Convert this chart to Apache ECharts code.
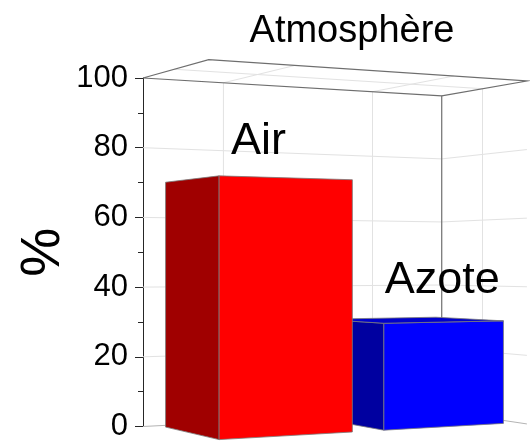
<!DOCTYPE html>
<html>
<head>
<meta charset="utf-8">
<script src="https://cdn.jsdelivr.net/npm/echarts@6/dist/echarts.min.js"></script>
<style>
  html, body { margin: 0; padding: 0; background: #fff; }
  #chart { width: 530px; height: 442px; }
</style>
</head>
<body>
<div id="chart"></div>
<script>
// ---- data ----
const categories = ['Air', 'Azote'];
const values = [70, 30];
const zTicks = [0, 20, 40, 60, 80, 100];
const rowTicks = [1];
const chartTitle = 'Atmosphère';
const axisName = '%';

// ---- styling / camera (not data) ----
const FONT = '"Liberation Sans", Arial, Helvetica, sans-serif';
const frontColors = ['#ff0000', '#0000ff'];
const sideColors = ['#a00000', '#0000a0'];
const topColors = ['#d80000', '#0000cc'];
const labelDx = [1, 31];
const labelDy = -39;
const H0 = 46.3; // eye height in value units
const CAM = { c1: 0.0151, c2: 0.0256, c3: 0.2408, a1: 49.5, a2: -13.5, a3: 36.505 };
const BOX = { x0: 0.5, x1: 2.5, y0: 0.5, y1: 1.5 };
const HALF = 0.4;

function makeProj(api) {
  const W = (X, Y) => CAM.c1 * X + CAM.c2 * Y + CAM.c3;
  const U = (X, Y) => CAM.a1 * X + CAM.a2 * Y + CAM.a3;
  const WB = W(BOX.x0, BOX.y1);
  const uB = U(BOX.x0, BOX.y1) / WB;
  const cy = api.coord([BOX.x0, H0])[1];
  return function (X, Y, Z) {
    const ref = api.coord([BOX.x0, Z]);
    const w = W(X, Y);
    return [ref[0] + U(X, Y) / w - uB, cy + (ref[1] - cy) * WB / w];
  };
}

function line(pts, color, width, z2) {
  return { type: 'polyline', shape: { points: pts }, style: { stroke: color, lineWidth: width, fill: null }, z2: z2 || 0, silent: true };
}

function renderFrame(params, api) {
  const P = makeProj(api);
  const zMin = zTicks[0], zMax = zTicks[zTicks.length - 1];
  const kids = [];
  const light = '#e2e2e2';
  // horizontal gridlines on back walls
  zTicks.slice(1, -1).forEach(z => {
    kids.push(line([P(BOX.x0, BOX.y1, z), P(BOX.x1, BOX.y1, z), P(BOX.x1, BOX.y0, z)], light, 1));
  });
  // category gridlines: back wall vertical + across top plane
  categories.forEach((c, i) => {
    const X = i + 1;
    kids.push(line([P(X, BOX.y1, zMin), P(X, BOX.y1, zMax), P(X, BOX.y0, zMax)], light, 1));
  });
  // row gridlines: right wall vertical + across top plane
  rowTicks.forEach(Y => {
    kids.push(line([P(BOX.x1, Y, zMin), P(BOX.x1, Y, zMax), P(BOX.x0, Y, zMax)], light, 1));
  });
  // floor back edges
  kids.push(line([P(BOX.x0, BOX.y1, zMin), P(BOX.x1, BOX.y1, zMin), P(BOX.x1, BOX.y0, zMin)], '#b4b4b4', 1, 1));
  // top box edges
  kids.push(line([P(BOX.x0, BOX.y1, zMax), P(BOX.x1, BOX.y1, zMax), P(BOX.x1, BOX.y0, zMax),
                  P(BOX.x0, BOX.y0, zMax), P(BOX.x0, BOX.y1, zMax)], '#6e6e6e', 1.1, 2));
  // back vertical edge
  kids.push(line([P(BOX.x1, BOX.y1, zMin), P(BOX.x1, BOX.y1, zMax)], '#6e6e6e', 1.2, 2));
  return { type: 'group', children: kids };
}

function poly(pts, fill, z2) {
  return { type: 'polygon', shape: { points: pts }, style: { fill: fill, stroke: '#7a7a7a', lineWidth: 0.8, lineJoin: 'round' }, z2: z2 };
}

function renderBar(params, api) {
  const P = makeProj(api);
  const idx = params.dataIndex;
  const X = api.value(0);
  const V = api.value(1);
  const base = zTicks[0];
  const x0 = X - HALF, x1 = X + HALF, y0 = 1 - HALF, y1 = 1 + HALF;
  const z2 = (categories.length - idx) * 10;
  const kids = [];
  kids.push(poly([P(x0, y0, base), P(x0, y1, base), P(x0, y1, V), P(x0, y0, V)], sideColors[idx], z2));
  kids.push(poly([P(x0, y0, base), P(x1, y0, base), P(x1, y0, V), P(x0, y0, V)], frontColors[idx], z2));
  if (V < H0) {
    kids.push(poly([P(x0, y0, V), P(x1, y0, V), P(x1, y1, V), P(x0, y1, V)], topColors[idx], z2));
  }
  const lp = P(X, 1, V);
  kids.push({
    type: 'text', z2: 100,
    style: { text: categories[idx], x: lp[0] + labelDx[idx], y: lp[1] + labelDy, align: 'center', verticalAlign: 'middle',
             fontSize: 45, fill: '#000', fontFamily: FONT }
  });
  return { type: 'group', children: kids };
}

const chart = echarts.init(document.getElementById('chart'), null, { renderer: 'canvas' });
chart.setOption({
  animation: false,
  backgroundColor: '#fff',
  title: {
    text: chartTitle, left: 347, top: 8, textAlign: 'center',
    textStyle: { fontSize: 38, fontWeight: 'normal', color: '#000', fontFamily: FONT }
  },
  grid: { left: 143, top: 78, bottom: 15, right: 10 },
  xAxis: { type: 'value', min: BOX.x0, max: BOX.x1, show: false },
  yAxis: {
    type: 'value', position: 'left',
    min: zTicks[0], max: zTicks[zTicks.length - 1], interval: zTicks[1] - zTicks[0],
    axisLine: { show: true, lineStyle: { color: '#262626', width: 1 } },
    axisTick: { show: true, length: 8, lineStyle: { color: '#262626', width: 1 } },
    minorTick: { show: true, splitNumber: 2, length: 5, lineStyle: { color: '#262626', width: 1 } },
    splitLine: { show: false },
    axisLabel: { fontSize: 31, color: '#000', margin: 15, fontFamily: FONT },
    name: axisName, nameLocation: 'middle', nameGap: 72, nameRotate: 90, nameMoveOverlap: false,
    nameTextStyle: { fontSize: 55, color: '#000', fontFamily: FONT }
  },
  series: [
    { type: 'custom', name: 'frame', renderItem: renderFrame, data: [[0, 0]], clip: false, silent: true, z: 1 },
    { type: 'custom', name: 'bars', renderItem: renderBar,
      data: values.map((v, i) => [i + 1, v]), clip: false, silent: true, z: 2 }
  ]
});
</script>
</body>
</html>
